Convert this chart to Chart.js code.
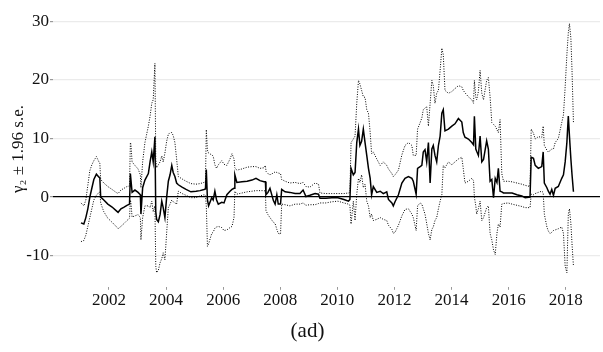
<!DOCTYPE html>
<html>
<head>
<meta charset="utf-8">
<script src="https://cdn.jsdelivr.net/npm/chart.js@4"></script>
<style>
  html, body { margin: 0; padding: 0; background: #fff; }
  #chart { display: block; }
</style>
</head>
<body>
<canvas id="chart" width="603" height="352"></canvas>
<script>
// Rolling estimate of gamma_2 with +/- 1.96 s.e. bands
const years = [
  2001.02, 2001.12, 2001.19, 2001.26, 2001.33, 2001.40, 2001.47, 2001.56, 2001.65, 2001.68,
  2001.71, 2001.82, 2001.96, 2002.11, 2002.25, 2002.32, 2002.42, 2002.53, 2002.63, 2002.72,
  2002.75, 2002.77, 2002.81, 2002.91, 2003.02, 2003.10, 2003.12, 2003.18, 2003.26, 2003.38,
  2003.44, 2003.50, 2003.55, 2003.61, 2003.64, 2003.67, 2003.73, 2003.79, 2003.85, 2003.90,
  2003.96, 2004.02, 2004.08, 2004.14, 2004.20, 2004.25, 2004.31, 2004.37, 2004.43, 2004.56,
  2004.70, 2004.87, 2005.05, 2005.19, 2005.33, 2005.38, 2005.41, 2005.45, 2005.49, 2005.60,
  2005.65, 2005.71, 2005.77, 2005.83, 2005.95, 2006.03, 2006.13, 2006.24, 2006.31, 2006.38,
  2006.41, 2006.48, 2006.66, 2006.84, 2007.01, 2007.15, 2007.29, 2007.43, 2007.48, 2007.50,
  2007.57, 2007.64, 2007.76, 2007.82, 2007.88, 2007.93, 2008.01, 2008.05, 2008.17, 2008.34,
  2008.52, 2008.69, 2008.80, 2008.90, 2009.04, 2009.22, 2009.34, 2009.39, 2009.60, 2009.81,
  2010.02, 2010.23, 2010.39, 2010.44, 2010.48, 2010.56, 2010.62, 2010.68, 2010.74, 2010.79,
  2010.85, 2010.91, 2010.97, 2011.03, 2011.09, 2011.15, 2011.20, 2011.26, 2011.38, 2011.50,
  2011.61, 2011.73, 2011.79, 2011.91, 2011.96, 2012.02, 2012.14, 2012.26, 2012.37, 2012.49,
  2012.61, 2012.66, 2012.76, 2012.81, 2012.90, 2012.96, 2013.01, 2013.07, 2013.13, 2013.19,
  2013.25, 2013.31, 2013.36, 2013.42, 2013.48, 2013.54, 2013.60, 2013.66, 2013.71, 2013.77,
  2013.89, 2014.01, 2014.12, 2014.24, 2014.36, 2014.41, 2014.47, 2014.59, 2014.71, 2014.77,
  2014.80, 2014.85, 2014.88, 2014.94, 2015.00, 2015.06, 2015.12, 2015.23, 2015.29, 2015.35,
  2015.41, 2015.47, 2015.53, 2015.59, 2015.64, 2015.70, 2015.76, 2015.82, 2015.98, 2016.12,
  2016.29, 2016.46, 2016.58, 2016.75, 2016.79, 2016.87, 2016.93, 2017.04, 2017.16, 2017.21,
  2017.25, 2017.34, 2017.39, 2017.45, 2017.51, 2017.57, 2017.63, 2017.74, 2017.86, 2017.92,
  2017.98, 2018.04, 2018.09, 2018.13, 2018.18, 2018.22, 2018.27
];

const estimate = [
  -4.4, -4.6, -3.5, -2.0, 0.0, 1.5, 3.0, 3.9, 3.4, 3.3,
  0.0, -0.5, -1.2, -1.7, -2.3, -2.6, -2.0, -1.7, -1.4, -1.2,
  4.0, 4.0, 0.8, 1.2, 0.8, 0.4, -2.9, 1.6, 2.9, 4.0,
  6.0, 7.7, 6.0, 10.3, -2.5, -3.8, -4.2, -3.0, -0.7, -1.8,
  -3.5, -0.1, 2.7, 3.8, 5.4, 4.2, 3.5, 2.4, 2.1, 1.7,
  1.3, 0.9, 1.0, 1.1, 1.3, 1.4, 4.7, -0.5, -1.5, -0.1,
  -0.5, 1.0, -0.5, -1.2, -0.9, -1.0, 0.4, 1.0, 1.3, 1.5,
  3.8, 2.5, 2.6, 2.7, 2.9, 3.2, 2.8, 2.6, 2.6, 0.4,
  0.8, 1.5, -0.6, -1.2, 0.4, -1.2, -1.2, 1.3, 0.9, 0.8,
  0.6, 0.6, 1.2, 0.1, 0.3, 0.6, 0.5, -0.2, -0.2, -0.1,
  -0.1, -0.4, -0.7, -0.4, 4.9, 3.8, 4.2, 9.3, 11.6, 8.8,
  9.5, 11.6, 9.3, 7.1, 4.9, 3.2, 0.4, 1.8, 0.8, 1.0,
  0.6, 0.9, -0.4, -1.0, -1.5, -0.8, 0.4, 2.4, 3.2, 3.5,
  3.2, 2.7, 0.5, 4.9, 5.2, 5.4, 7.7, 8.1, 6.0, 9.3,
  2.4, 8.2, 8.8, 7.1, 6.0, 8.8, 10.4, 14.3, 14.9, 11.3,
  11.6, 12.1, 12.5, 13.4, 12.8, 11.0, 10.2, 9.9, 9.3, 8.9,
  13.8, 8.2, 7.8, 7.1, 10.4, 6.0, 6.4, 9.6, 8.2, 2.7,
  3.0, -0.1, 3.2, 2.5, 4.9, 1.0, 0.9, 0.7, 0.7, 0.7,
  0.4, 0.2, -0.1, 0.0, 6.8, 6.6, 5.4, 4.9, 5.2, 7.7,
  2.4, 1.6, 1.0, 0.5, 1.3, 0.3, 1.5, 1.8, 3.2, 3.8,
  6.0, 9.3, 13.8, 10.4, 6.5, 3.8, 0.9
];

const upper = [
  -1.0, -1.5, -0.5, 2.0, 4.5, 5.5, 6.2, 6.9, 6.0, 5.8,
  3.0, 2.4, 1.8, 1.3, 0.8, 0.6, 1.2, 1.5, 1.8, 1.9,
  9.3, 9.0, 6.0, 5.4, 4.8, 3.8, 1.6, 6.0, 9.3, 12.1,
  13.8, 16.0, 16.6, 22.8, 6.5, 5.0, 5.5, 6.0, 7.0, 6.0,
  7.5, 9.5, 10.7, 11.0, 11.0, 10.5, 9.3, 6.5, 3.5, 3.1,
  2.7, 2.3, 2.2, 2.3, 2.5, 2.6, 11.5, 8.0, 7.5, 7.2,
  7.0, 5.5, 4.9, 5.5, 6.2, 5.6, 5.4, 6.5, 7.4, 6.5,
  5.0, 4.6, 4.8, 5.1, 5.2, 5.2, 4.9, 5.0, 5.4, 4.4,
  4.0, 3.8, 4.1, 4.3, 4.2, 4.1, 4.0, 3.0, 2.7, 2.4,
  2.5, 2.3, 2.5, 1.8, 1.7, 2.4, 2.2, 0.7, 0.6, 0.6,
  0.6, 0.6, 0.7, 0.8, 9.3, 9.9, 10.4, 16.0, 19.9, 19.3,
  18.2, 17.1, 17.0, 14.9, 14.3, 11.0, 7.4, 7.7, 6.5, 5.4,
  6.0, 5.4, 4.8, 4.0, 3.5, 3.8, 4.6, 7.2, 8.8, 9.3,
  8.8, 7.1, 7.1, 11.6, 12.7, 13.5, 14.9, 15.2, 15.4, 12.1,
  16.0, 19.9, 19.0, 16.0, 17.7, 18.2, 21.6, 25.4, 24.3, 18.2,
  17.7, 18.0, 18.5, 19.0, 18.8, 18.2, 17.8, 17.1, 16.6, 16.0,
  19.9, 17.0, 16.6, 18.0, 21.6, 17.7, 16.6, 19.9, 20.4, 17.1,
  12.7, 12.4, 12.1, 11.5, 11.0, 13.2, 4.0, 2.7, 2.7, 2.6,
  2.4, 2.2, 2.0, 1.8, 11.6, 10.9, 9.9, 10.3, 10.2, 12.1,
  8.8, 8.0, 7.7, 7.9, 8.2, 8.2, 9.3, 10.0, 12.7, 14.0,
  18.8, 24.3, 28.0, 29.6, 27.1, 21.6, 12.7
];

const lower = [
  -7.6, -7.4, -6.5, -5.0, -3.5, -2.0, -0.5, 0.3, 0.8, 0.9,
  -1.0, -2.5, -3.6, -4.3, -5.0, -5.4, -5.0, -4.5, -4.0, -3.6,
  -0.5, -1.0, -3.4, -3.2, -3.0, -3.5, -7.3, -3.5, -1.5, -1.5,
  -1.8, -0.7, -2.5, -1.5, -11.8, -12.9, -12.5, -11.2, -10.5, -9.5,
  -10.7, -6.2, -1.8, -1.2, -0.5, -0.8, -1.0, -1.2, 1.0, 0.6,
  0.3, -0.1, -0.1, 0.2, 0.4, 0.3, -1.5, -8.4, -8.0, -6.2,
  -6.0, -5.3, -5.1, -5.0, -5.2, -5.7, -5.6, -5.2, -5.0, -3.5,
  1.0, 0.5, 0.7, 0.9, 1.0, 1.1, 1.1, 1.1, 1.0, -2.3,
  -3.0, -3.5, -4.3, -4.5, -5.5, -6.2, -6.3, -1.2, -1.3, -1.5,
  -1.2, -1.2, -1.0, -1.4, -1.3, -1.3, -1.1, -1.0, -1.0, -0.8,
  -0.7, -1.0, -1.2, -1.4, -4.6, -0.7, -4.0, 0.5, 3.2, 2.5,
  3.8, 1.6, 2.2, -0.7, -1.5, -3.5, -2.9, -4.0, -3.8, -3.5,
  -3.8, -4.0, -4.8, -5.5, -6.2, -6.0, -4.8, -3.2, -2.1, -2.0,
  -2.9, -3.5, -5.7, -1.5, -1.0, -1.2, -2.0, -2.9, -4.5, -6.2,
  -7.3, -5.5, -5.1, -4.0, -3.5, -2.0, -0.7, 0.4, 5.4, 5.0,
  6.0, 5.5, 6.0, 6.5, 6.8, 4.9, 2.4, 2.7, 3.2, 2.8,
  0.0, -1.5, -2.9, -2.0, -0.7, -4.0, -3.5, -1.8, -1.5, -6.2,
  -7.3, -9.0, -9.8, -6.2, -4.6, -5.1, -1.2, -1.1, -1.0, -1.2,
  -1.4, -1.6, -1.8, -1.8, 0.5, 0.4, 0.6, 0.8, 1.0, 0.8,
  -2.9, -5.1, -5.8, -6.2, -6.0, -5.7, -5.6, -5.4, -5.1, -6.2,
  -11.8, -12.9, -2.9, -2.0, -4.5, -8.0, -11.8
];

const yTicks = [-10, 0, 10, 20, 30];
const xTicks = [2002, 2004, 2006, 2008, 2010, 2012, 2014, 2016, 2018];

const serif = 'Liberation Serif';
const ink = '#111';

function points(values) {
  return years.map((y, i) => ({ x: y, y: values[i] }));
}

function band(values) {
  return {
    data: points(values),
    borderColor: '#000',
    borderWidth: 1,
    borderDash: [1, 1.5],
    pointRadius: 0,
    tension: 0
  };
}

new Chart(document.getElementById('chart'), {
  type: 'line',
  data: {
    datasets: [
      {
        data: points(estimate),
        borderColor: '#000',
        borderWidth: 1.5,
        pointRadius: 0,
        tension: 0
      },
      band(upper),
      band(lower)
    ]
  },
  options: {
    responsive: false,
    animation: false,
    devicePixelRatio: 1,
    layout: { padding: { left: 15, right: 3, top: 6, bottom: 0 } },
    plugins: {
      legend: { display: false },
      tooltip: { enabled: false },
      title: {
        display: true,
        text: '(ad)',
        position: 'bottom',
        color: ink,
        font: { family: serif, size: 21, weight: 'normal' },
        padding: { top: 0, bottom: 8 }
      }
    },
    scales: {
      x: {
        type: 'linear',
        min: 2000.04,
        max: 2019.2,
        afterFit: s => { s.height = 32; },
        afterBuildTicks: s => { s.ticks = xTicks.map(v => ({ value: v })); },
        border: { display: false },
        grid: { drawOnChartArea: false, drawTicks: true, tickLength: 3, tickColor: '#999' },
        ticks: {
          padding: 1,
          color: ink,
          maxRotation: 0,
          font: { family: serif, size: 17 },
          callback: v => String(v)
        }
      },
      y: {
        min: -15.3,
        max: 31.7,
        afterFit: s => { s.width = 38; },
        afterBuildTicks: s => { s.ticks = yTicks.map(v => ({ value: v })); },
        border: { display: false },
        grid: {
          color: ctx => ctx.tick && ctx.tick.value === 0 ? '#000' : '#ebebeb',
          lineWidth: ctx => ctx.tick && ctx.tick.value === 0 ? 1.2 : 1.2,
          tickLength: 3,
          tickColor: '#999'
        },
        ticks: {
          padding: 1,
          color: ink,
          font: { family: serif, size: 17 },
          callback: v => String(v)
        },
        title: {
          display: true,
          text: 'γ₂ ± 1.96 s.e.',
          color: ink,
          font: { family: serif, size: 17 },
          padding: { top: -7, bottom: 0 }
        }
      }
    }
  }
});
</script>
</body>
</html>
